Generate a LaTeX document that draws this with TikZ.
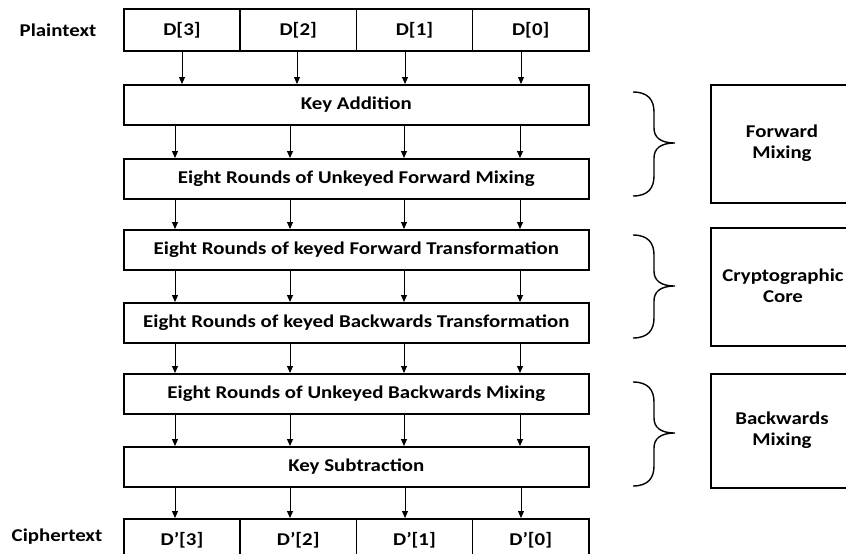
\documentclass[tikz,border=0pt]{standalone}
\usepackage{fontspec}
\setmainfont{Carlito}[FakeStretch=1.16]
\usetikzlibrary{arrows.meta}
\begin{document}
\begin{tikzpicture}[x=1pt,y=-1pt,
  every node/.style={font=\bfseries\fontsize{18}{21}\selectfont},
  box/.style={draw, line width=1.7pt, inner sep=0pt, anchor=north west, minimum width=465pt, minimum height=40pt},
  cell/.style={draw, line width=1.7pt, inner sep=0pt, anchor=north west, minimum width=116.25pt, minimum height=42pt},
  side/.style={draw, line width=1.7pt, inner sep=0pt, anchor=north west, minimum width=160pt, align=center},
  lab/.style={inner sep=0pt},
  arr/.style={line width=0.9pt, -{Triangle[length=7pt,width=6pt]}},
  brace/.style={line width=1.4pt}]
\clip (0,0) rectangle (846,554);
% plaintext row
\node[lab] (pl) at (58,30) {Plaintext};
\node[cell] (p3) at (123,8) {D[3]};
\node[cell] (p2) at (239.25,8) {D[2]};
\node[cell] (p1) at (355.5,8) {D[1]};
\node[cell] (p0) at (471.75,8) {D[0]};
% stages
\node[box] (ka) at (123,84) {Key Addition};
\node[box] (ufm) at (123,158) {Eight Rounds of Unkeyed Forward Mixing};
\node[box] (kft) at (123,229) {Eight Rounds of keyed Forward Transformation};
\node[box] (kbt) at (123,302) {Eight Rounds of keyed Backwards Transformation};
\node[box] (ubm) at (123,373) {Eight Rounds of Unkeyed Backwards Mixing};
\node[box] (ks) at (123,446) {Key Subtraction};
% ciphertext row
\node[lab] (ct) at (57,537) {Ciphertext};
\node[cell] (c3) at (123,518) {D’[3]};
\node[cell] (c2) at (239.25,518) {D’[2]};
\node[cell] (c1) at (355.5,518) {D’[1]};
\node[cell] (c0) at (471.75,518) {D’[0]};
% columns
\coordinate (a1) at (182,0); \coordinate (a2) at (297,0);
\coordinate (a3) at (405,0); \coordinate (a4) at (521,0);
\coordinate (b1) at (175,0); \coordinate (b2) at (290,0);
\coordinate (b3) at (404,0); \coordinate (b4) at (520,0);
% arrows plaintext -> key addition
\draw[arr] (a1 |- p3.south) -- (a1 |- ka.north);
\draw[arr] (a2 |- p2.south) -- (a2 |- ka.north);
\draw[arr] (a3 |- p1.south) -- (a3 |- ka.north);
\draw[arr] (a4 |- p0.south) -- (a4 |- ka.north);
\foreach \u/\v in {ka/ufm, ufm/kft, kft/kbt, kbt/ubm, ubm/ks}{
  \foreach \c in {b1,b2,b3,b4}{
    \draw[arr] (\c |- \u.south) -- (\c |- \v.north);
  }
}
\draw[arr] (b1 |- ks.south) -- (b1 |- c3.north);
\draw[arr] (b2 |- ks.south) -- (b2 |- c2.north);
\draw[arr] (a3 |- ks.south) -- (a3 |- c1.north);
\draw[arr] (a4 |- ks.south) -- (a4 |- c0.north);
% side boxes
\node[side, minimum height=118pt] (fm) at (710,84) {};
\node[lab, align=center] (fmt) at (782,143) {Forward\\Mixing};
\node[side, minimum height=118pt] (cc) at (710,227) {};
\node[lab, align=center] (cct) at (783,286) {Cryptographic\\Core};
\node[side, minimum height=114pt] (bm) at (710,373) {};
\node[lab, align=center] (bmt) at (782,430) {Backwards\\Mixing};
% braces
\draw[brace] (633,92) .. controls (648,92) and (654,100) .. (654,112) -- (654,128)
  .. controls (654,137) and (660,143) .. (675,143)
  .. controls (660,143) and (654,149) .. (654,158) -- (654,176)
  .. controls (654,188) and (648,196) .. (633,196);
\draw[brace] (633,235) .. controls (648,235) and (654,243) .. (654,255) -- (654,271)
  .. controls (654,280) and (660,286) .. (675,286)
  .. controls (660,286) and (654,292) .. (654,301) -- (654,318)
  .. controls (654,330) and (648,338) .. (633,338);
\draw[brace] (633,382) .. controls (648,382) and (654,390) .. (654,402) -- (654,418)
  .. controls (654,427) and (660,433) .. (675,433)
  .. controls (660,433) and (654,439) .. (654,448) -- (654,466)
  .. controls (654,478) and (648,486) .. (633,486);
\end{tikzpicture}
\end{document}
